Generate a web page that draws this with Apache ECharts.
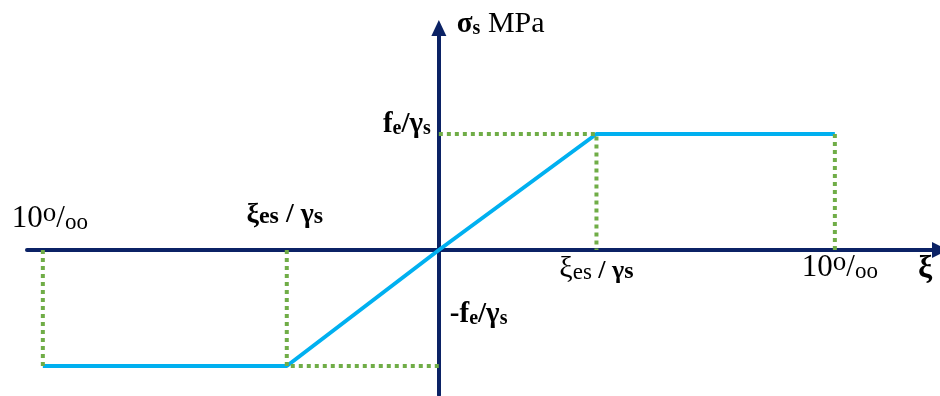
<!DOCTYPE html>
<html>
<head>
<meta charset="utf-8">
<script src="https://cdn.jsdelivr.net/npm/echarts@6/dist/echarts.min.js"></script>
<style>
  html, body { margin: 0; padding: 0; background: #ffffff; }
  #chart { width: 940px; height: 396px; }
</style>
</head>
<body>
<div id="chart"></div>
<script>
// Idealised steel stress–strain diagram (strain in ‰, stress in MPa)
const strainLimit = 10;        // ultimate strain 10 ‰
const yieldStrainPos = 3.98;   // ξes / γs on the tension side
const yieldStrainNeg = -3.84;  // ξes / γs on the compression side
const yieldStress = 348;       // fe / γs

// Elastic–perfectly plastic branch
const curveStrain = [-strainLimit, yieldStrainNeg, 0, yieldStrainPos, strainLimit];
const curveStress = [-yieldStress, -yieldStress, 0, yieldStress, yieldStress];

// Axis extent
const xMin = -10.4, xMax = 12.655;
const yMin = -435, yMax = 666;

const NAVY = '#0B2265';
const BLUE = '#00B0F0';
const GREEN = '#70AD47';
const SERIF = '"Liberation Serif", "Times New Roman", serif';

// Dotted projection lines (null breaks the polyline)
const guides = [
  [0, yieldStress], [yieldStrainPos, yieldStress], [yieldStrainPos, 0], null,
  [strainLimit, yieldStress], [strainLimit, 0], null,
  [-strainLimit, 0], [-strainLimit, -yieldStress], null,
  [yieldStrainNeg, 0], [yieldStrainNeg, -yieldStress], [0, -yieldStress]
].map(p => p === null ? ['-', '-'] : p);

const chart = echarts.init(document.getElementById('chart'), null, { renderer: 'canvas' });

const axisCommon = {
  type: 'value',
  axisTick: { show: false },
  axisLabel: { show: false },
  splitLine: { show: false }
};

chart.setOption({
  animation: false,
  backgroundColor: '#ffffff',
  grid: { left: 27, right: 0, top: 28, bottom: 1, containLabel: false },
  xAxis: Object.assign({}, axisCommon, {
    min: xMin, max: xMax,
    axisLine: { onZero: true, symbol: ['none', 'triangle'], symbolSize: [16, 16],
      lineStyle: { color: NAVY, width: 4 } }
  }),
  yAxis: Object.assign({}, axisCommon, {
    min: yMin, max: yMax,
    axisLine: { onZero: true, symbol: ['none', 'triangle'], symbolSize: [15, 16],
      lineStyle: { color: NAVY, width: 4 } }
  }),
  series: [
    {
      type: 'line',
      data: curveStrain.map((x, i) => [x, curveStress[i]]),
      showSymbol: false,
      lineStyle: { color: BLUE, width: 4 },
      z: 3
    },
    {
      type: 'line',
      data: guides,
      connectNulls: false,
      showSymbol: false,
      lineStyle: { color: GREEN, width: 4, type: [4, 4] },
      z: 4
    }
  ]
});

// Text annotations anchored to data positions
const b = (size, lh, extra) => Object.assign({ fontFamily: SERIF, fontWeight: 'bold', fontSize: size, lineHeight: lh, verticalAlign: 'bottom', color: '#000' }, extra || {});
const n = (size, lh, extra) => Object.assign({ fontFamily: SERIF, fontWeight: 'normal', fontSize: size, lineHeight: lh, verticalAlign: 'bottom', color: '#000' }, extra || {});

const perMille = {
  n: n(31, 34),
  sup: n(27, 34, { verticalAlign: 'top', lineHeight: 24 }),
  sl: n(31, 34),
  sub: n(23, 22)
};

const labels = [
  { at: [0, yMax], dx: 18, dy: 11, align: 'left',
    text: '{g|σ}{gs|s}{m| MPa}',
    rich: { g: b(29, 32), gs: b(20, 28), m: n(30, 32) } },
  { at: [0, yieldStress], dx: -8, dy: 5, align: 'right',
    text: '{f|f}{fs|e}{f|/γ}{fs|s}',
    rich: { f: b(29, 32), fs: b(20, 28) } },
  { at: [0, 0], dx: 11, dy: 79, align: 'left',
    text: '{f|-f}{fs|e}{f|/γ}{fs|s}',
    rich: { f: b(29, 32), fs: b(20, 28) } },
  { at: [-strainLimit, 0], dx: -31, dy: -16, align: 'left',
    text: '{n|10}{sup|o}{sl|/}{sub|oo}', rich: perMille },
  { at: [yieldStrainNeg, 0], dx: -2, dy: -21, align: 'center',
    text: '{x|ξ}{xs|es}{x| / γ}{xs|s}',
    rich: { x: b(28, 32), xs: b(24, 30) } },
  { at: [yieldStrainPos, 0], dx: 0, dy: 34, align: 'center',
    text: '{x|ξ}{xs|es}{y| / γ}{ys|s}',
    rich: { x: n(30, 32), xs: n(23, 30), y: b(26, 32), ys: b(24, 30) } },
  { at: [strainLimit, 0], dx: 5, dy: 33, align: 'center',
    text: '{n|10}{sup|o}{sl|/}{sub|oo}', rich: perMille },
  { at: [xMax, 0], dx: -22, dy: 35, align: 'left',
    text: '{x|ξ}', rich: { x: b(32, 32) } }
];

chart.setOption({
  graphic: labels.map(l => {
    const p = chart.convertToPixel({ gridIndex: 0 }, l.at);
    return {
      type: 'text',
      x: p[0] + l.dx,
      y: p[1] + l.dy,
      z: 10,
      style: { text: l.text, rich: l.rich, align: l.align, verticalAlign: 'bottom' }
    };
  })
});
</script>
</body>
</html>
